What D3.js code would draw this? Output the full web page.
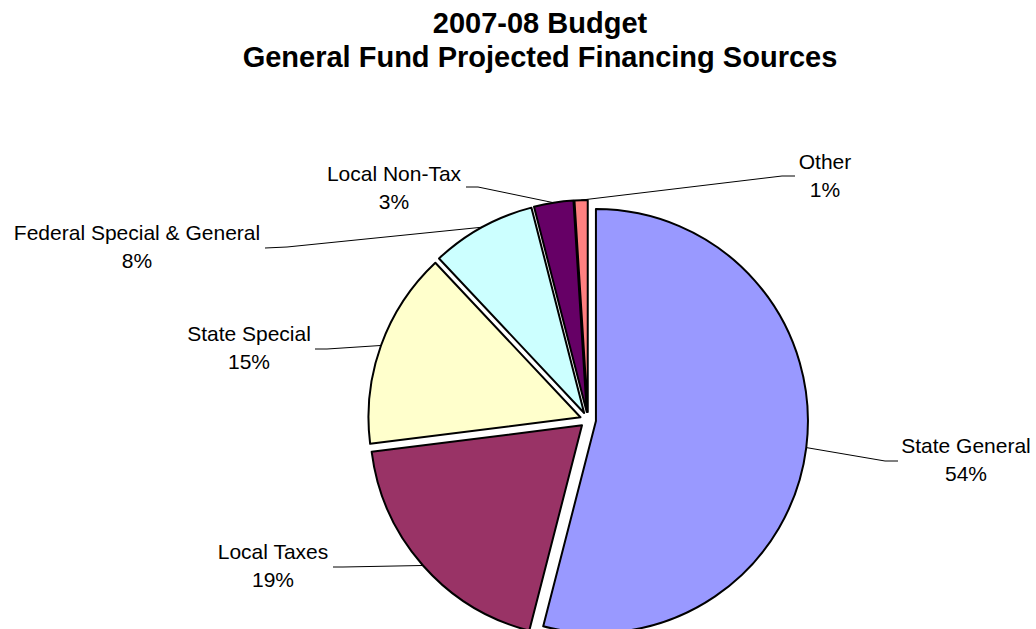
<!DOCTYPE html>
<html>
<head>
<meta charset="utf-8">
<script src="https://cdn.jsdelivr.net/npm/d3@7"></script>
<style>
  html, body { margin: 0; padding: 0; background: #fff; }
  svg { display: block; }
  text { font-family: Arial, "Liberation Sans", sans-serif; fill: #000; }
</style>
</head>
<body>
<svg id="chart" width="1036" height="629"></svg>
<script>
// Financing sources, in order clockwise from 12 o'clock
const categories = ["State General", "Local Taxes", "State Special",
                    "Federal Special & General", "Local Non-Tax", "Other"];
const shares = [54, 19, 15, 8, 3, 1];
const colors = ["#9999FF", "#993366", "#FFFFCC", "#CCFFFF", "#660066", "#FF8080"];
const titleLines = ["2007-08 Budget", "General Fund Projected Financing Sources"];

// Label placement: text centre, first baseline, leader elbow and end
const labelLayout = [
  { tx: 966, ty: 453, elbow: [885, 461], end: [898, 461] },
  { tx: 273, ty: 559, elbow: [343, 567], end: [333, 567] },
  { tx: 249, ty: 341, elbow: [327, 349], end: [315, 349] },
  { tx: 137, ty: 240, elbow: [287, 247], end: [265, 248] },
  { tx: 394, ty: 181, elbow: [478, 187], end: [466, 187] },
  { tx: 825, ty: 169, elbow: [782, 176], end: [795, 176] }
];

const W = 1036, H = 629;
const cx = 588, cy = 420, R = 212, explode = 8;

const svg = d3.select("#chart");

// Title
svg.append("text")
  .attr("x", 540).attr("y", 33)
  .attr("text-anchor", "middle")
  .style("font-size", "29px").style("font-weight", "bold")
  .selectAll("tspan").data(titleLines).join("tspan")
  .attr("x", 540).attr("dy", (d, i) => i === 0 ? 0 : 34)
  .text(d => d);

const data = categories.map((c, i) => ({ name: c, value: shares[i], color: colors[i], layout: labelLayout[i] }));

const pie = d3.pie().sort(null).value(d => d.value).startAngle(0).endAngle(2 * Math.PI);
const arcs = pie(data);
const arc = d3.arc().innerRadius(0).outerRadius(R);

const g = svg.append("g").attr("transform", `translate(${cx},${cy})`);

function offset(d) {
  const a = (d.startAngle + d.endAngle) / 2;
  return [explode * Math.sin(a), -explode * Math.cos(a)];
}

// Exploded slices
g.selectAll("path.slice").data(arcs).join("path")
  .attr("class", "slice")
  .attr("transform", d => { const o = offset(d); return `translate(${o[0]},${o[1]})`; })
  .attr("d", arc)
  .attr("fill", d => d.data.color)
  .attr("stroke", "#000")
  .attr("stroke-width", 2)
  .attr("stroke-linejoin", "round");

// Leader lines from the outer arc at each slice's mid-angle
svg.selectAll("polyline.leader").data(arcs).join("polyline")
  .attr("class", "leader")
  .attr("fill", "none")
  .attr("stroke", "#000")
  .attr("stroke-width", 1)
  .attr("points", d => {
    const a = (d.startAngle + d.endAngle) / 2;
    const o = offset(d);
    const px = cx + o[0] + R * Math.sin(a);
    const py = cy + o[1] - R * Math.cos(a);
    const L = d.data.layout;
    return [[px, py], L.elbow, L.end].map(p => p.join(",")).join(" ");
  });

// Category and percentage labels
const labels = svg.selectAll("text.lbl").data(arcs).join("text")
  .attr("class", "lbl")
  .attr("text-anchor", "middle")
  .style("font-size", "21px");
labels.append("tspan")
  .attr("x", d => d.data.layout.tx).attr("y", d => d.data.layout.ty)
  .text(d => d.data.name);
labels.append("tspan")
  .attr("x", d => d.data.layout.tx).attr("y", d => d.data.layout.ty + 28)
  .text(d => Math.round(d.data.value) + "%");
</script>
</body>
</html>
